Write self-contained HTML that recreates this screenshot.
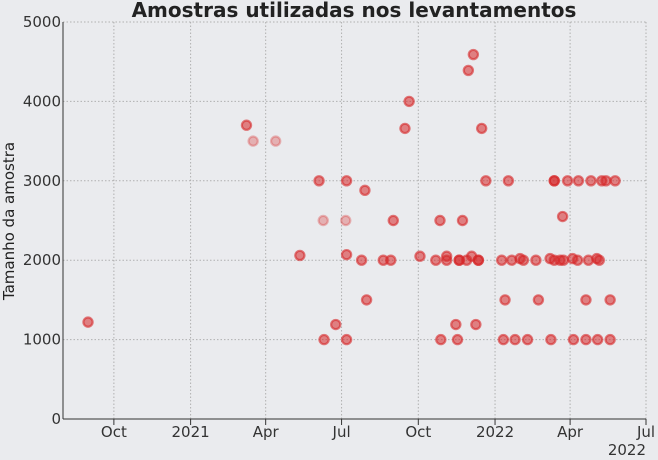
<!DOCTYPE html>
<html><head><meta charset="utf-8"><style>
body{margin:0;background:#eaebee;}
svg{display:block;font-family:"DejaVu Sans","Liberation Sans",sans-serif;}
</style></head><body>
<svg id="chart" width="658" height="460" viewBox="0 0 658 460">
<rect width="658" height="460" fill="#eaebee"/>
<text x="354" y="17" text-anchor="middle" font-size="20" font-weight="bold" fill="#222">Amostras utilizadas nos levantamentos</text>
<text transform="translate(14,221) rotate(-90)" text-anchor="middle" font-size="15" fill="#222">Tamanho da amostra</text>
<g id="grid"></g><g id="axes"></g><g id="marks"></g>
</svg>
<script>
const dates=["2020-08-31","2021-03-09","2021-05-12","2021-06-04","2021-06-10","2021-06-24","2021-07-07","2021-07-07","2021-07-07","2021-07-25","2021-07-29","2021-07-31","2021-08-20","2021-08-29","2021-09-01","2021-09-15","2021-09-20","2021-10-03","2021-10-22","2021-10-27","2021-10-28","2021-11-04","2021-11-04","2021-11-15","2021-11-17","2021-11-19","2021-11-19","2021-11-23","2021-11-28","2021-11-30","2021-12-04","2021-12-06","2021-12-09","2021-12-12","2021-12-12","2021-12-16","2021-12-21","2022-01-09","2022-01-11","2022-01-13","2022-01-17","2022-01-21","2022-01-25","2022-01-31","2022-02-04","2022-02-09","2022-02-19","2022-02-22","2022-03-08","2022-03-09","2022-03-13","2022-03-13","2022-03-13","2022-03-20","2022-03-23","2022-03-24","2022-03-29","2022-04-04","2022-04-05","2022-04-10","2022-04-11","2022-04-20","2022-04-20","2022-04-23","2022-04-26","2022-05-03","2022-05-04","2022-05-06","2022-05-09","2022-05-14","2022-05-19","2022-05-19","2022-05-25"];
const sizes=[1220,3700,2060,3000,1000,1190,3000,2070,1000,2000,2880,1500,2000,2000,2500,3660,4000,2050,2000,2500,1000,2000,2050,1190,1000,2000,2000,2500,2000,4390,2050,4590,1190,2000,2000,3660,3000,2000,1000,1500,3000,2000,1000,2020,2000,1000,2000,1500,2020,1000,3000,3000,2000,2000,2550,2000,3000,2020,1000,2000,3000,1500,1000,2000,3000,2020,1000,2000,3000,3000,1500,1000,3000];
const lightDates=["2021-03-17","2021-04-13","2021-06-09","2021-07-06"];
const lightSizes=[3500,3500,2500,2500];
const yTicks=[0,1000,2000,3000,4000,5000];
const xTickDates=["2020-10-01","2021-01-01","2021-04-01","2021-07-01","2021-10-01","2022-01-01","2022-04-01","2022-07-01"];
const xTickLabels=["Oct","2021","Apr","Jul","Oct","2022","Apr","Jul"];

const NS="http://www.w3.org/2000/svg";
const L=63,R=646,T=22,B=419;
const d0=Date.parse("2020-08-01"),d1=Date.parse("2022-07-01");
const xs=d=>L+(Date.parse(d)-d0)/(d1-d0)*(R-L);
const ys=v=>B-v/5000*(B-T);
function mk(tag,attrs,parent,text){const e=document.createElementNS(NS,tag);for(const k in attrs)e.setAttribute(k,attrs[k]);if(text!==undefined)e.textContent=text;document.getElementById(parent).appendChild(e);return e;}
yTicks.forEach(v=>{
  const g=mk("line",{x1:L,x2:R,y1:ys(v),y2:ys(v),stroke:"#b0b0b0","stroke-dasharray":"1.5,2","stroke-width":1},"grid");
  
  
  const t=mk("text",{x:L-2,y:ys(v)+5,"text-anchor":"end","font-size":15,fill:"#333"},"axes",String(v));
  
  
});
xTickDates.forEach((d,i)=>{
  const x=xs(d);
  const g=mk("line",{x1:x,x2:x,y1:T,y2:B,stroke:"#b0b0b0","stroke-dasharray":"1.5,2","stroke-width":1},"grid");
  
  
  const tk=mk("line",{x1:x,x2:x,y1:B,y2:B+6,stroke:"#333","stroke-width":1},"axes");
  
  
  const t=mk("text",{x:x,y:B+18,"text-anchor":"middle","font-size":15,fill:"#333"},"axes",xTickLabels[i]);
  
  
});
const off=mk("text",{x:R,y:455,"text-anchor":"end","font-size":15,fill:"#333"},"axes","2022");


const ax1=mk("line",{x1:L,x2:L,y1:T,y2:B,stroke:"#333","stroke-width":1},"axes");


const ax2=mk("line",{x1:L,x2:R,y1:B,y2:B,stroke:"#333","stroke-width":1},"axes");


lightDates.forEach((d,i)=>{
  const c=mk("circle",{cx:xs(d),cy:ys(lightSizes[i]),r:4.6,fill:"rgba(214,39,40,0.3)",stroke:"rgba(214,39,40,0.3)","stroke-width":2.2},"marks");
  
  
});
dates.forEach((d,i)=>{
  const c=mk("circle",{cx:xs(d),cy:ys(sizes[i]),r:4.6,fill:"rgba(214,39,40,0.55)",stroke:"rgba(214,39,40,0.6)","stroke-width":2.2},"marks");
  
  
});
</script>
</body></html>
